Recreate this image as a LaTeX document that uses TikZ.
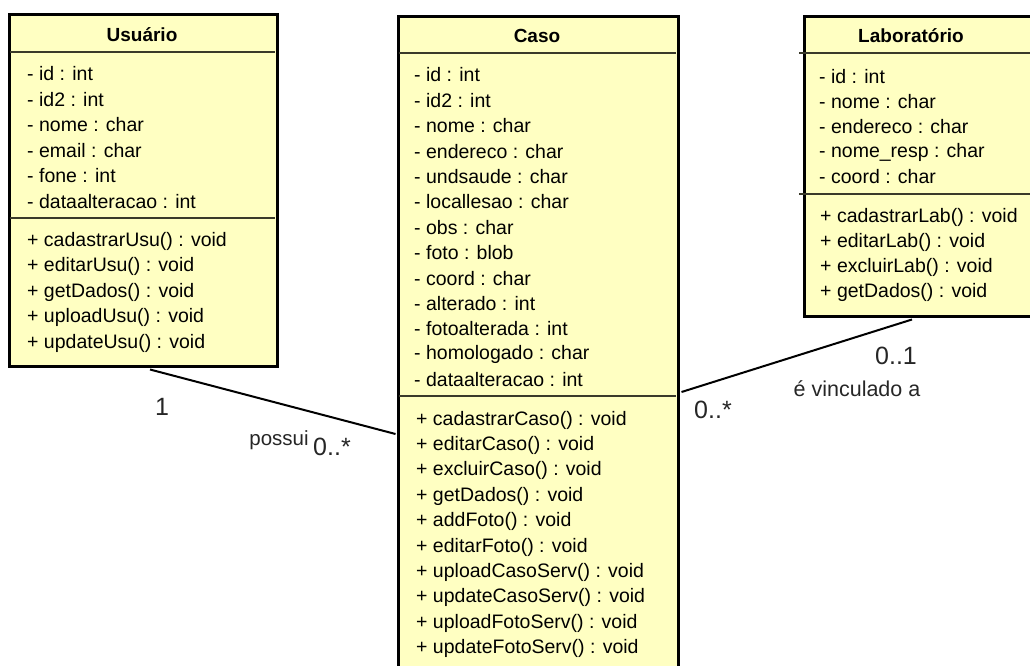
\documentclass[tikz,border=0pt]{standalone}
\usepackage{fontspec}
\setmainfont{Liberation Sans}
\usetikzlibrary{calc}
\definecolor{classfill}{HTML}{FFFFC2}
\definecolor{sepcol}{HTML}{3A3A2A}
\tikzset{
  classbox/.style={draw=black, line width=3pt, fill=classfill, rectangle, inner sep=0pt, anchor=north west},
  sepline/.style={draw=sepcol, line width=1.6pt},
  member/.style={anchor=west, inner sep=0pt, font=\fontsize{19.5}{21}\selectfont},
  ctitle/.style={inner sep=0pt, font=\fontsize{19}{20}\selectfont\bfseries},
  assoc/.style={draw=black, line width=2pt},
  lbl/.style={inner sep=0pt, font=\fontsize{21.5}{24}\selectfont, text=black!85},
  mult/.style={inner sep=0pt, font=\fontsize{25}{26}\selectfont, text=black!85}
}
\begin{document}
\begin{tikzpicture}[x=1pt,y=-1pt]
\useasboundingbox (0,0) rectangle (1030,666);
\begin{scope}
\clip (0,0) rectangle (1030,666);
% Usuario
\node[classbox, minimum width=268pt, minimum height=352pt] (usu) at (8,13) {};
\draw[sepline] (9.5,52) -- (274.5,52);
\draw[sepline] (9.5,218) -- (274.5,218);
\node[ctitle] (usut) at (142,35) {Usuário};
\foreach \t [count=\i] in {- id : int, - id2 : int, - nome : char, - email : char, - fone : int, - dataalteracao : int}
  \node[member] (usua\i) at (27,{74+25.5*(\i-1)}) {\t};
\foreach \t [count=\i] in {+ cadastrarUsu() : void, + editarUsu() : void, + getDados() : void, + uploadUsu() : void, + updateUsu() : void}
  \node[member] (usum\i) at (27,{241+25.5*(\i-1)}) {\t};
% Caso
\node[classbox, minimum width=280pt, minimum height=670pt] (caso) at (397,15) {};
\draw[sepline] (398.5,53) -- (675.5,53);
\draw[sepline] (398.5,396) -- (675.5,396);
\node[ctitle] (casot) at (537,36) {Caso};
\foreach \t [count=\i] in {- id : int, - id2 : int, - nome : char, - endereco : char, - undsaude : char, - locallesao : char, - obs : char, - foto : blob, - coord : char, - alterado : int, - fotoalterada : int, - homologado : char, - dataalteracao : int}
  \node[member] (casoa\i) at (414,{75+25.4*(\i-1)}) {\t};
\foreach \t [count=\i] in {+ cadastrarCaso() : void, + editarCaso() : void, + excluirCaso() : void, + getDados() : void, + addFoto() : void, + editarFoto() : void, + uploadCasoServ() : void, + updateCasoServ() : void, + uploadFotoServ() : void, + updateFotoServ() : void}
  \node[member] (casom\i) at (416,{420+25.4*(\i-1)}) {\t};
% Laboratorio
\node[classbox, minimum width=240pt, minimum height=300pt] (lab) at (803,15) {};
\draw[sepline] (799,53) -- (1040,53);
\draw[sepline] (799,194) -- (1040,194);
\node[ctitle] (labt) at (911,36) {Laboratório};
\foreach \t [count=\i] in {- id : int, - nome : char, - endereco : char, - nome\_resp : char, - coord : char}
  \node[member] (laba\i) at (819,{77+25*(\i-1)}) {\t};
\foreach \t [count=\i] in {+ cadastrarLab() : void, + editarLab() : void, + excluirLab() : void, + getDados() : void}
  \node[member] (labm\i) at (820,{217+25.3*(\i-1)}) {\t};
\end{scope}
% associations
\draw[assoc] ($(usu.south west)+(142,1.5)$) -- ($(caso.north west)+(-1.5,419)$);
\draw[assoc] ($(caso.north east)+(1.5,377)$) -- ($(lab.south west)+(109,1.5)$);
% labels
\node[mult] (m1) at (162,407) {1};
\node[lbl, font=\fontsize{20.5}{22}\selectfont] (possui) at (279,440) {possui};
\node[mult, anchor=west] (m2) at (313,447) {0..*};
\node[mult, anchor=west] (m3) at (694,410) {0..*};
\node[mult] (m4) at (896,356) {0..1};
\node[lbl] (vinc) at (857,389) {é vinculado a};
\end{tikzpicture}
\end{document}
